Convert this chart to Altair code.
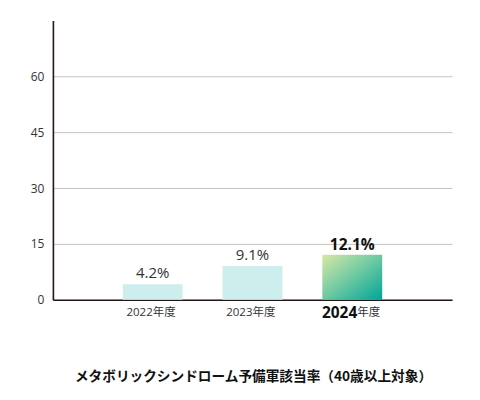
import altair as alt
import pandas as pd

years = ["2022", "2023", "2024"]
values = [4.2, 9.1, 12.1]
value_labels = ["4.2%", "9.1%", "12.1%"]
highlight = [False, False, True]
y_ticks = [0, 15, 30, 45, 60]
title_text = "メタボリックシンドローム予備軍該当率（40歳以上対象）"

df = pd.DataFrame({"year": years, "value": values, "label": value_labels, "hl": highlight})

NUM_FONT = "Open Sans"
JP_FONT = "Noto Sans CJK JP"
DARK = "#231815"

x = alt.X("year:N", sort=years,
          scale=alt.Scale(paddingInner=0.4, paddingOuter=0.7),
          axis=alt.Axis(labels=False, ticks=False, title=None, grid=False,
                        domainColor=DARK, domainWidth=1.6))
y = alt.Y("value:Q", scale=alt.Scale(domain=[0, 75], nice=False),
          axis=alt.Axis(values=y_ticks, title=None, ticks=False, labelPadding=9,
                        labelFont=NUM_FONT, labelFontSize=12, labelColor="#333333",
                        domainColor=DARK, domainWidth=1.6, gridColor="#c4c4c4",
                        gridWidth=1, grid=True))

base = alt.Chart(df)

bars_plain = base.transform_filter("!datum.hl").mark_bar(color="#cdeeed").encode(x=x, y=y)

grad = alt.LinearGradient(gradient="linear", x1=0, y1=0, x2=1, y2=1,
                          stops=[alt.GradientStop(color="#d8e8a6", offset=0),
                                 alt.GradientStop(color="#6cc9a2", offset=0.5),
                                 alt.GradientStop(color="#00a597", offset=1)])
bars_hl = base.transform_filter("datum.hl").mark_bar(color=grad).encode(x=x, y=y)

val_plain = base.transform_filter("!datum.hl").mark_text(
    font=NUM_FONT, fontSize=15, color="#333333", baseline="bottom", dy=-3
).encode(x=x, y=y, text="label:N")
val_hl = base.transform_filter("datum.hl").mark_text(
    font=NUM_FONT, fontSize=15.5, fontWeight="bold", color="#111111", baseline="bottom", dy=-2
).encode(x=x, y=y, text="label:N")

yr_plain = base.transform_filter("!datum.hl").mark_text(
    font=NUM_FONT, fontSize=11.5, color="#333333", align="right", baseline="middle"
).encode(x=x, y=alt.value(293), text="year:N")
yr_hl = base.transform_filter("datum.hl").mark_text(
    font=NUM_FONT, fontSize=15.5, fontWeight="bold", color="#111111", align="right",
    baseline="middle", dx=5
).encode(x=x, y=alt.value(293), text="year:N")

nendo_plain = base.transform_filter("!datum.hl").transform_calculate(t="'年度'").mark_text(
    font=JP_FONT, fontSize=11.5, color="#333333", align="left", baseline="middle"
).encode(x=x, y=alt.value(293), text="t:N")
nendo_hl = base.transform_filter("datum.hl").transform_calculate(t="'年度'").mark_text(
    font=JP_FONT, fontSize=11.5, color="#333333", align="left", baseline="middle", dx=5
).encode(x=x, y=alt.value(293), text="t:N")

title_layer = alt.Chart(pd.DataFrame({"t": [title_text]})).mark_text(
    font=JP_FONT, fontSize=13.7, fontWeight="bold", color="#111111", align="center",
    baseline="middle"
).encode(x=alt.value(201), y=alt.value(357), text="t:N")

chart = alt.layer(bars_plain, bars_hl, val_plain, val_hl, yr_plain, yr_hl,
                  nendo_plain, nendo_hl, title_layer).properties(
    width=400, height=280,
    background="white",
    autosize=alt.AutoSizeParams(type="none"),
    padding={"left": 45, "top": 12, "right": 20, "bottom": 92},
).configure_view(stroke=None)

chart.save("out.html", embed_options={"renderer": "svg", "actions": False})
